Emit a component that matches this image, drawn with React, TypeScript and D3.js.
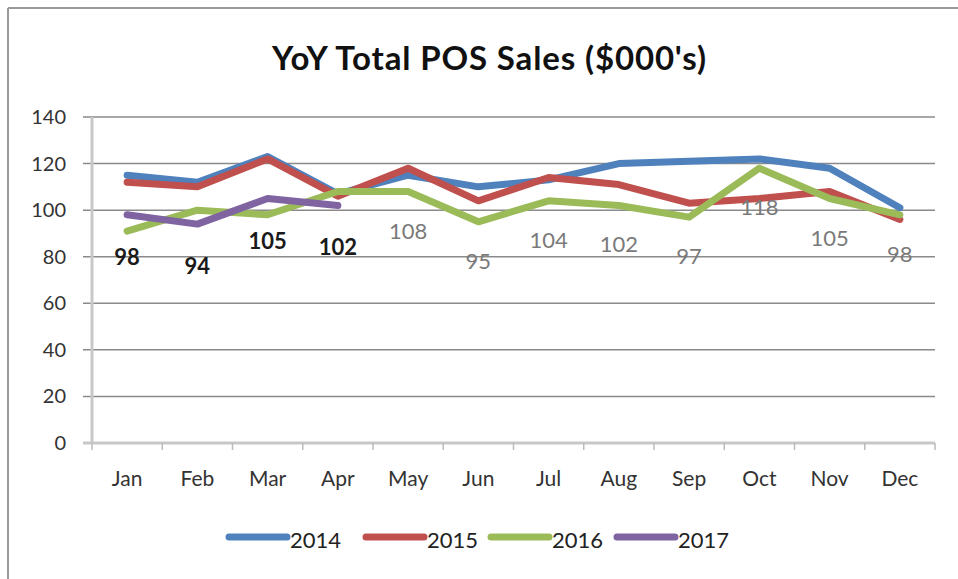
import React from "react";
import * as d3 from "d3";

const months = ["Jan", "Feb", "Mar", "Apr", "May", "Jun", "Jul", "Aug", "Sep", "Oct", "Nov", "Dec"];
const yTicks = [0, 20, 40, 60, 80, 100, 120, 140];
const s2014 = [115, 112, 123, 107, 115, 110, 113, 120, 121, 122, 118, 101];
const s2015 = [112, 110, 122, 106, 118, 104, 114, 111, 103, 105, 108, 96];
const s2016 = [91, 100, 98, 108, 108, 95, 104, 102, 97, 118, 105, 98];
const s2017 = [98, 94, 105, 102];
const seriesNames = ["2014", "2015", "2016", "2017"];
const seriesColors = ["#4F81BD", "#C0504D", "#9BBB59", "#8064A2"];

const W = 958, H = 579;
const FONT = "Lato, 'Open Sans', sans-serif";

export default function App() {
  const x = d3.scaleBand().domain(months).range([92, 935]);
  const y = d3.scaleLinear().domain([0, 140]).range([443, 117]);
  const line = d3
    .line<number>()
    .x((_, i) => (x(months[i]) as number) + x.bandwidth() / 2)
    .y((d) => y(d));
  const all = [s2014, s2015, s2016, s2017];
  const cx = (i: number) => (x(months[i]) as number) + x.bandwidth() / 2;

  const legendX = [229, 366, 491, 617];

  return (
    <svg width={W} height={H} style={{ position: "absolute", left: 0, top: 0 }}>
      <rect x={0} y={0} width={W} height={H} fill="#fff" />
      <line x1={8} y1={8} x2={W} y2={8} stroke="#9a9a9a" strokeWidth={2} />
      <line x1={8} y1={8} x2={8} y2={H} stroke="#9a9a9a" strokeWidth={2} />
      <text x={489} y={70} textAnchor="middle" fontFamily={FONT} fontWeight="bold" fontSize={33} fill="#111" textLength={434} lengthAdjust="spacing">
        YoY Total POS Sales ($000's)
      </text>
      {yTicks.map((t) =>
        t > 0 ? (
          <line key={"g" + t} x1={83} x2={935} y1={y(t)} y2={y(t)} stroke="#8a8a8a" strokeWidth={1.5} />
        ) : null
      )}
      {yTicks.map((t) => (
        <text key={"yl" + t} x={66} y={y(t) + 7} textAnchor="end" fontFamily={FONT} fontSize={20} fill="#333">
          {t}
        </text>
      ))}
      <line x1={92} x2={92} y1={117} y2={443} stroke="#c8c8c8" strokeWidth={3} />
      <line x1={83} x2={935} y1={443} y2={443} stroke="#c8c8c8" strokeWidth={3} />
      {months.map((m) => (
        <line key={"t" + m} x1={x(m) as number} x2={x(m) as number} y1={443} y2={450} stroke="#bbb" strokeWidth={1.5} />
      ))}
      <line x1={935} x2={935} y1={443} y2={450} stroke="#bbb" strokeWidth={1.5} />
      {months.map((m, i) => (
        <text key={"xl" + m} x={cx(i)} y={486} textAnchor="middle" fontFamily={FONT} fontSize={21} fill="#333">
          {m}
        </text>
      ))}
      {all.map((s, k) => (
        <path key={"p" + k} d={line(s) as string} fill="none" stroke={seriesColors[k]} strokeWidth={7} strokeLinejoin="round" strokeLinecap="round" />
      ))}
      {s2016.map((v, i) =>
        i >= 4 ? (
          <text key={"l16" + i} x={cx(i)} y={y(v) + 47} textAnchor="middle" fontFamily={FONT} fontSize={22} fill="#7a7a7a">
            {v}
          </text>
        ) : null
      )}
      {s2017.map((v, i) => (
        <text key={"l17" + i} x={cx(i)} y={y(v) + 50} textAnchor="middle" fontFamily={FONT} fontWeight="bold" fontSize={22} fill="#1a1a1a">
          {v}
        </text>
      ))}
      {seriesNames.map((n, k) => (
        <g key={"lg" + n}>
          <line x1={legendX[k]} x2={legendX[k] + 58} y1={537} y2={537} stroke={seriesColors[k]} strokeWidth={7} strokeLinecap="round" />
          <text x={legendX[k] + 61} y={548} fontFamily={FONT} fontSize={22} fill="#222">
            {n}
          </text>
        </g>
      ))}
    </svg>
  );
}
